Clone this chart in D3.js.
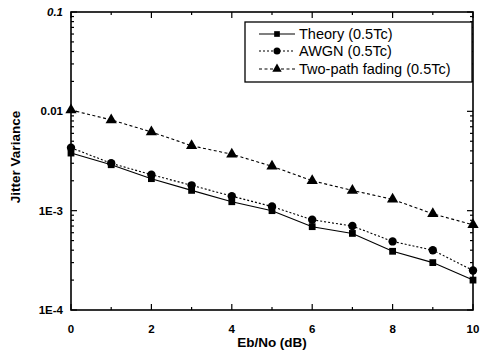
<!DOCTYPE html>
<html><head><meta charset="utf-8">
<script src="https://cdn.jsdelivr.net/npm/d3@7"></script>
<style>body{margin:0;background:#fff}svg{display:block}</style>
</head><body><svg id="c" width="480" height="351"></svg>
<script>
const xs = [0,1,2,3,4,5,6,7,8,9,10];
const theory = [0.0038,0.0029,0.0021,0.0016,0.00123,0.001,0.00069,0.00059,0.00039,0.0003,0.0002];
const awgn = [0.0043,0.003,0.0023,0.0018,0.0014,0.0011,0.00081,0.0007,0.00049,0.0004,0.00025];
const twoPath = [0.0103,0.0082,0.0062,0.0045,0.0037,0.0028,0.002,0.0016,0.0013,0.00093,0.00072];
const seriesNames = ["Theory (0.5Tc)","AWGN (0.5Tc)","Two-path fading (0.5Tc)"];
const yTickVals = [0.1,0.01,0.001,0.0001];
const yTickLabels = ["0.1","0.01","1E-3","1E-4"];
const xTickVals = [0,2,4,6,8,10];

const svg = d3.select("#c");
const L=71,R=473,T=12,B=310;
const x = d3.scaleLinear().domain([0,10]).range([L,R]);
const y = d3.scaleLog().domain([0.0001,0.1]).range([B,T]);
const font = "'Liberation Sans', Arial, sans-serif";

const minor=[];
for(let e=-4;e<-1;e++) for(let k=2;k<=9;k++) minor.push(k*Math.pow(10,e));

svg.append("rect").attr("x",L).attr("y",T).attr("width",R-L).attr("height",B-T)
  .attr("fill","none").attr("stroke","#000").attr("stroke-width",1.6);

const g = svg.append("g").attr("stroke","#000").attr("stroke-width",1.2);
yTickVals.forEach(v=>{
  g.append("line").attr("x1",L).attr("x2",L+6).attr("y1",y(v)).attr("y2",y(v));
  g.append("line").attr("x1",R).attr("x2",R-6).attr("y1",y(v)).attr("y2",y(v));
});
minor.forEach(v=>{
  g.append("line").attr("x1",L).attr("x2",L+3).attr("y1",y(v)).attr("y2",y(v));
  g.append("line").attr("x1",R).attr("x2",R-3).attr("y1",y(v)).attr("y2",y(v));
});
xs.forEach(v=>{
  const len = v%2===0?6:3;
  g.append("line").attr("x1",x(v)).attr("x2",x(v)).attr("y1",B).attr("y2",B-len);
  g.append("line").attr("x1",x(v)).attr("x2",x(v)).attr("y1",T).attr("y2",T+len);
});

svg.selectAll(".yl").data(yTickVals).enter().append("text")
  .attr("x",L-8).attr("y",d=>y(d)+4).attr("text-anchor","end")
  .attr("font-family",font).attr("font-size",11.5).attr("font-weight","bold")
  .attr("font-style",(d,i)=>i===0?"italic":"normal")
  .text((d,i)=>yTickLabels[i]);
svg.selectAll(".xl").data(xTickVals).enter().append("text")
  .attr("x",d=>x(d)).attr("y",B+23).attr("text-anchor","middle")
  .attr("font-family",font).attr("font-size",11.5).attr("font-weight","bold")
  .text(d=>d);

svg.append("text").attr("x",272).attr("y",347).attr("text-anchor","middle")
  .attr("font-family",font).attr("font-size",13.5).attr("font-weight","bold").text("Eb/No (dB)");
svg.append("text").attr("transform",`translate(20,157) rotate(-90)`)
  .attr("text-anchor","middle").attr("font-family",font).attr("font-size",13.5)
  .attr("font-weight","bold").text("Jitter Variance");

const series = [
  {vals:theory, dash:null, sym:d3.symbolSquare, size:46},
  {vals:awgn, dash:"2,2", sym:d3.symbolCircle, size:55},
  {vals:twoPath, dash:"3,2.5", sym:d3.symbolTriangle, size:55}
];
const line = d3.line().x((d,i)=>x(xs[i])).y(d=>y(d));
series.forEach(s=>{
  svg.append("path").attr("d",line(s.vals)).attr("fill","none")
    .attr("stroke","#000").attr("stroke-width",1.1)
    .attr("stroke-dasharray",s.dash);
  svg.selectAll(null).data(s.vals).enter().append("path")
    .attr("d",d3.symbol().type(s.sym).size(s.size))
    .attr("transform",(d,i)=>`translate(${x(xs[i])},${y(d)})`)
    .attr("fill","#000");
});

const lg = svg.append("g");
lg.append("rect").attr("x",245).attr("y",22).attr("width",227).attr("height",60)
  .attr("fill","#fff").attr("stroke","#000").attr("stroke-width",1.3);
const rows=[34,51,69];
series.forEach((s,i)=>{
  lg.append("line").attr("x1",259).attr("x2",295).attr("y1",rows[i]).attr("y2",rows[i])
    .attr("stroke","#000").attr("stroke-width",1.1).attr("stroke-dasharray",s.dash);
  lg.append("path").attr("d",d3.symbol().type(s.sym).size(s.size*0.7)())
    .attr("transform",`translate(277,${rows[i]})`).attr("fill","#000");
  lg.append("text").attr("x",299).attr("y",rows[i]+5).attr("font-family",font)
    .attr("font-size",14.5).text(seriesNames[i]);
});
</script></body></html>
